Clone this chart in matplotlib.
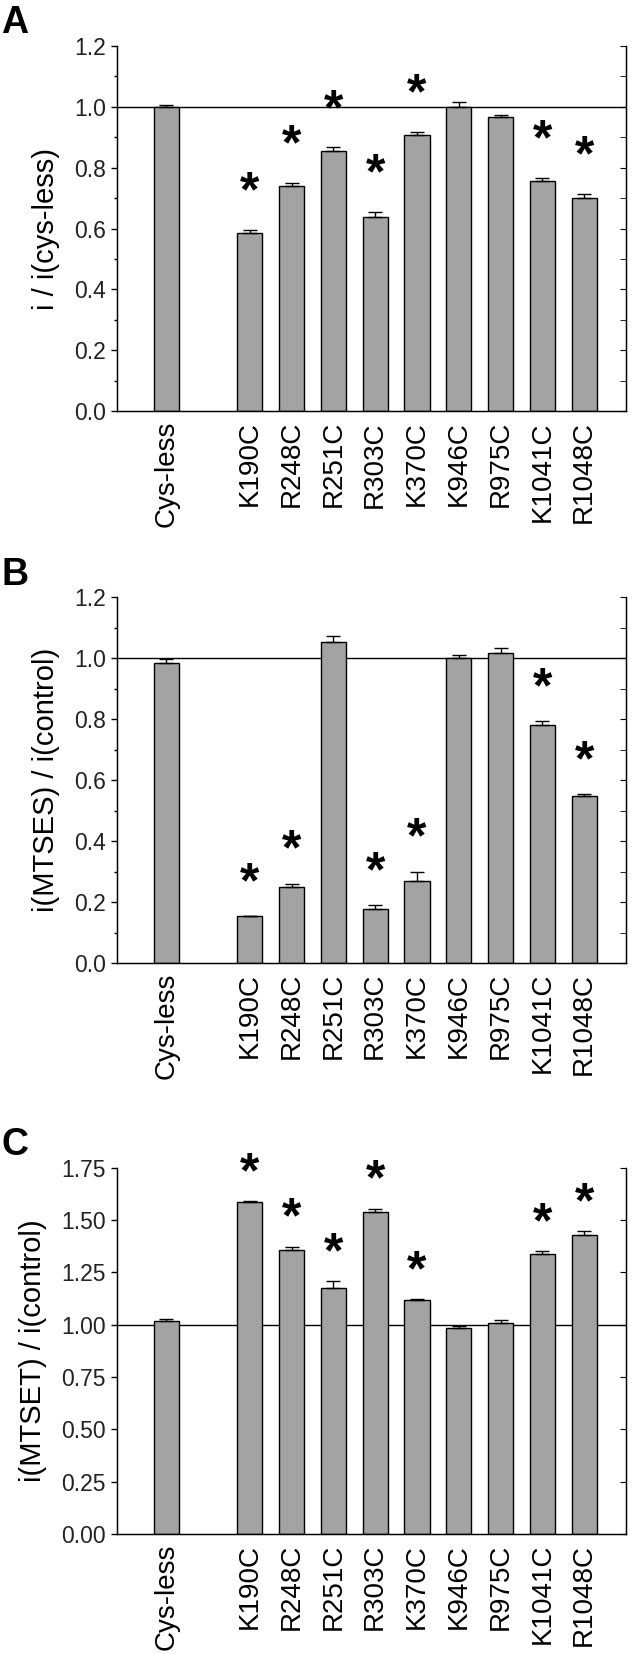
import numpy as np
import matplotlib
matplotlib.use('Agg')
import matplotlib.pyplot as plt
from matplotlib.ticker import MultipleLocator

plt.rcParams['font.family'] = ['Liberation Sans', 'DejaVu Sans']

# Categories (Cys-less is separated from the mutants by one empty slot)
CATEGORIES = ['Cys-less', 'K190C', 'R248C', 'R251C', 'R303C', 'K370C',
              'K946C', 'R975C', 'K1041C', 'R1048C']

# Panel A: i / i(cys-less)
A_VALS = [1.000, 0.586, 0.738, 0.854, 0.639, 0.907, 1.000, 0.967, 0.755, 0.701]
A_ERR  = [0.004, 0.009, 0.012, 0.012, 0.015, 0.009, 0.014, 0.004, 0.011, 0.012]
A_SIG  = [False, True, True, True, True, True, False, False, True, True]

# Panel B: i(MTSES) / i(control)
B_VALS = [0.983, 0.153, 0.248, 1.052, 0.179, 0.270, 1.000, 1.018, 0.782, 0.548]
B_ERR  = [0.014, 0.000, 0.013, 0.022, 0.011, 0.030, 0.009, 0.015, 0.012, 0.006]
B_SIG  = [False, True, True, False, True, True, False, False, True, True]

# Panel C: i(MTSET) / i(control)
C_VALS = [1.017, 1.586, 1.356, 1.174, 1.537, 1.117, 0.985, 1.010, 1.338, 1.427]
C_ERR  = [0.010, 0.004, 0.016, 0.035, 0.017, 0.006, 0.010, 0.014, 0.013, 0.021]
C_SIG  = [False, True, True, True, True, True, False, False, True, True]

BAR_COL = '#a3a3a3'
X = np.array([0] + list(range(2, 11)))


def draw_panel(fig, rect, vals, errs, sig, letter, ylabel, ymax, major, minor,
               dec, star_off):
    ax = fig.add_axes(rect)
    ax.axhline(1.0, color='black', lw=1.0, zorder=1)
    ax.bar(X, vals, width=0.6, color=BAR_COL, edgecolor='black', lw=1.0, zorder=2)
    ax.errorbar(X, vals, yerr=[np.zeros(len(errs)), errs], fmt='none',
                ecolor='black', elinewidth=1.0, capsize=5, capthick=1.0, zorder=3)
    for xi, v, e, s in zip(X, vals, errs, sig):
        if s:
            ax.text(xi, v + e + star_off, '*', ha='center', va='center',
                    fontsize=36, fontweight='bold')

    ax.set_xlim(-1.18, 11.0)
    ax.set_ylim(0, ymax)
    ax.set_xticks(X)
    ax.set_xticklabels(CATEGORIES, rotation=90, fontsize=20)
    ax.tick_params(axis='x', length=0, pad=7)
    ax.yaxis.set_major_locator(MultipleLocator(major))
    if minor:
        ax.yaxis.set_minor_locator(MultipleLocator(minor))
    ax.set_yticks(ax.get_yticks())
    ax.set_yticklabels([f'{t:.{dec}f}' for t in ax.get_yticks()], fontsize=16.5,
                       color='#222222')
    ax.set_ylim(0, ymax)
    ax.tick_params(axis='y', which='major', direction='out', length=4, width=1, pad=4)
    ax.tick_params(axis='y', which='minor', direction='out', length=2.5, width=1)
    ax.set_ylabel(ylabel, fontsize=21, labelpad=10)

    ax.spines['top'].set_visible(False)
    for sp in ['left', 'bottom', 'right']:
        ax.spines[sp].set_linewidth(1.0)

    # right axis with inward ticks, no labels
    ax2 = ax.twinx()
    ax2.set_ylim(0, ymax)
    ax2.yaxis.set_major_locator(MultipleLocator(major))
    if minor:
        ax2.yaxis.set_minor_locator(MultipleLocator(minor))
    ax2.tick_params(axis='y', which='both', direction='in', length=4, labelright=False)
    ax2.spines['top'].set_visible(False)

    fig.text(0.002, rect[1] + rect[3] + 0.0245, letter, fontsize=27,
             fontweight='bold', ha='left', va='top')
    return ax


fig = plt.figure(figsize=(6.33, 16.54), dpi=100)

draw_panel(fig, [0.1848, 0.7513, 0.804, 0.2211], A_VALS, A_ERR, A_SIG, 'A',
           'i / i(cys-less)', 1.2, 0.2, 0.1, 1, 0.12)
draw_panel(fig, [0.1848, 0.4177, 0.804, 0.2213], B_VALS, B_ERR, B_SIG, 'B',
           'i(MTSES) / i(control)', 1.2, 0.2, 0.1, 1, 0.105)
draw_panel(fig, [0.1848, 0.0726, 0.804, 0.2213], C_VALS, C_ERR, C_SIG, 'C',
           'i(MTSET) / i(control)', 1.75, 0.25, None, 2, 0.13)

fig.savefig('out.png', dpi=100)
